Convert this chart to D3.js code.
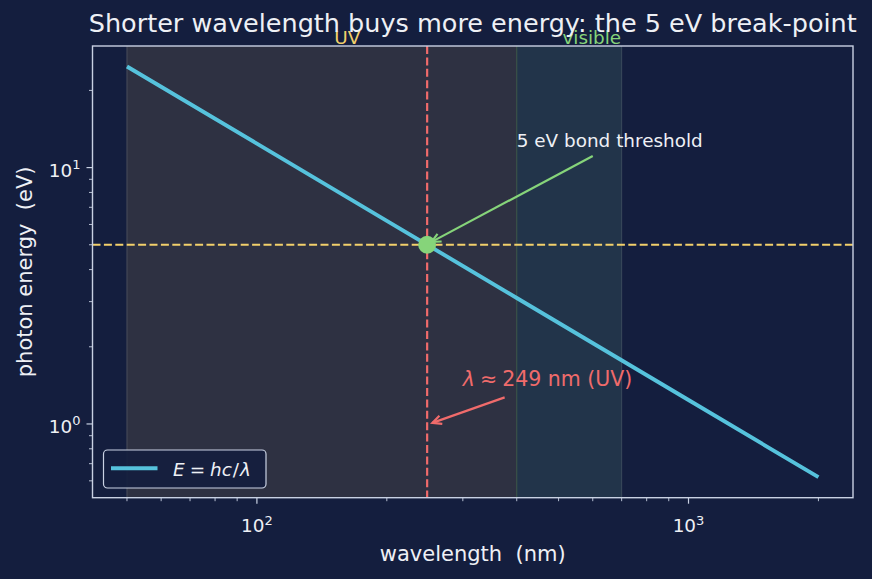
<!DOCTYPE html>
<html><head><meta charset="utf-8">
<script src="https://cdn.jsdelivr.net/npm/d3@7"></script>
<style>
html,body{margin:0;padding:0;background:#141e3e;}
svg{display:block;font-family:"DejaVu Sans",sans-serif;}
svg text{white-space:pre;}
</style></head><body>
<svg id="c" width="872" height="579"></svg>
<script>
// ---- data ----
const wavelengthNm = [50, 100, 200, 400, 1000, 2000];
const energyEv = [24.8, 12.4, 6.2, 3.1, 1.24, 0.62];
const thresholdEv = 5;
const breakWavelength = 248;
const uvSpan = [50, 400];
const visibleSpan = [400, 700];
const xDomain = [41.6, 2405];
const yDomain = [0.5157, 29.8];
const xMajorTicks = [100, 1000];
const xTickLabels = ["2", "3"];
const yMajorTicks = [1, 10];
const yTickLabels = ["0", "1"];
const xMinorTicks = [50,60,70,80,90,200,300,400,500,600,700,800,900,2000];
const yMinorTicks = [0.6,0.7,0.8,0.9,2,3,4,5,6,7,8,9,20];
const title = "Shorter wavelength buys more energy: the 5 eV break-point";
const thresholdNote = {text: "5 eV bond threshold", x: 400, y: 12, ax: 600, ay: 11.1, tx: 254, ty: 5.13};
const lambdaNote = {x: 300, y: 1.4, ax: 375, ay: 1.27, tx: 255, ty: 1.01};
const spanLabels = [{text:"UV", x:162}, {text:"visible", x:597}];

// ---- layout ----
const svg = d3.select("#c");
const L = 92.5, R = 853, T = 46, B = 497.7;
const x = d3.scaleLog().domain(xDomain).range([L, R]);
const y = d3.scaleLog().domain(yDomain).range([B, T]);

const C = {bg:"#141e3e", text:"#eef0f5", spine:"#c9d1e3", line:"#56c2dc", yellow:"#f2d06b",
  red:"#f06b6b", green:"#86d47a", uv:"#2e3142", vis:"#22344a"};

svg.append("rect").attr("width",872).attr("height",579).attr("fill",C.bg);

const defs = svg.append("defs");
defs.append("clipPath").attr("id","clip").append("rect")
  .attr("x",L).attr("y",T).attr("width",R-L).attr("height",B-T);

const plot = svg.append("g").attr("clip-path","url(#clip)");
// spans
plot.append("rect").attr("x",x(uvSpan[0])).attr("y",T).attr("width",x(uvSpan[1])-x(uvSpan[0]))
  .attr("height",B-T).attr("fill",C.uv);
plot.append("rect").attr("x",x(visibleSpan[0])).attr("y",T).attr("width",x(visibleSpan[1])-x(visibleSpan[0]))
  .attr("height",B-T).attr("fill",C.vis);
[[uvSpan[0],"#4a4d5c"],[visibleSpan[0],"#3f5a48"],[visibleSpan[1],"#3a4a5c"]].forEach(([v,c])=>{
  plot.append("line").attr("x1",x(v)).attr("x2",x(v)).attr("y1",T).attr("y2",B)
    .attr("stroke",c).attr("stroke-width",1);
});

// dashed lines
plot.append("line").attr("x1",L).attr("x2",R).attr("y1",y(thresholdEv)).attr("y2",y(thresholdEv))
  .attr("stroke",C.yellow).attr("stroke-width",2.2).attr("stroke-dasharray","8,3.4");
plot.append("line").attr("x1",x(breakWavelength)).attr("x2",x(breakWavelength)).attr("y1",T).attr("y2",B)
  .attr("stroke",C.red).attr("stroke-width",2.2).attr("stroke-dasharray","8,3.4");

// main line
const pts = wavelengthNm.map((w,i)=>[w, energyEv[i]]);
plot.append("path").datum(pts)
  .attr("d", d3.line().x(d=>x(d[0])).y(d=>y(d[1])))
  .attr("fill","none").attr("stroke",C.line).attr("stroke-width",3.9).attr("stroke-linecap","butt");

// point
plot.append("circle").attr("cx",x(breakWavelength)).attr("cy",y(thresholdEv)).attr("r",9).attr("fill",C.green);

// arrows
function arrow(x1,y1,x2,y2,color){
  const g = svg.append("g");
  g.append("line").attr("x1",x1).attr("y1",y1).attr("x2",x2).attr("y2",y2)
    .attr("stroke",color).attr("stroke-width",2.2);
  const a = Math.atan2(y2-y1,x2-x1), len=10, sp=0.45;
  const p = d3.path();
  p.moveTo(x2-len*Math.cos(a-sp), y2-len*Math.sin(a-sp));
  p.lineTo(x2,y2);
  p.lineTo(x2-len*Math.cos(a+sp), y2-len*Math.sin(a+sp));
  g.append("path").attr("d",p.toString()).attr("fill","none").attr("stroke",color)
    .attr("stroke-width",2.2).attr("stroke-linejoin","miter");
}
arrow(x(thresholdNote.ax),y(thresholdNote.ay),x(thresholdNote.tx),y(thresholdNote.ty),C.green);
arrow(x(lambdaNote.ax),y(lambdaNote.ay),x(lambdaNote.tx),y(lambdaNote.ty),C.red);

svg.append("text").attr("x",x(thresholdNote.x)).attr("y",y(thresholdNote.y))
  .attr("fill",C.text).attr("font-size",18.4).text(thresholdNote.text);
const lt = svg.append("text").attr("x",x(lambdaNote.x)).attr("y",y(lambdaNote.y))
  .attr("fill",C.red).attr("font-size",20.5);
lt.append("tspan").attr("font-style","italic").text("λ");
lt.append("tspan").attr("dx",5).text("≈");
lt.append("tspan").attr("dx",5).text("249 nm (UV)");

// spines
svg.append("rect").attr("x",L).attr("y",T).attr("width",R-L).attr("height",B-T)
  .attr("fill","none").attr("stroke",C.spine).attr("stroke-width",1.4);

// ticks
const ax = svg.append("g");
xMajorTicks.forEach((v,i)=>{
  ax.append("line").attr("x1",x(v)).attr("x2",x(v)).attr("y1",B).attr("y2",B+6).attr("stroke",C.spine).attr("stroke-width",1.2);
  const t = ax.append("text").attr("x",x(v)).attr("y",532).attr("text-anchor","middle").attr("fill",C.text).attr("font-size",18.4);
  t.append("tspan").text("10");
  t.append("tspan").attr("dy",-7.5).attr("font-size",13).text(xTickLabels[i]);
});
xMinorTicks.forEach(v=>{
  ax.append("line").attr("x1",x(v)).attr("x2",x(v)).attr("y1",B).attr("y2",B+3.5).attr("stroke",C.spine).attr("stroke-width",0.9);
});
yMajorTicks.forEach((v,i)=>{
  ax.append("line").attr("x1",L-6).attr("x2",L).attr("y1",y(v)).attr("y2",y(v)).attr("stroke",C.spine).attr("stroke-width",1.2);
  const t = ax.append("text").attr("x",L-12).attr("y",y(v)+9).attr("text-anchor","end").attr("fill",C.text).attr("font-size",18.4);
  t.append("tspan").text("10");
  t.append("tspan").attr("dy",-7.5).attr("font-size",13).text(yTickLabels[i]);
});
yMinorTicks.forEach(v=>{
  ax.append("line").attr("x1",L-3.5).attr("x2",L).attr("y1",y(v)).attr("y2",y(v)).attr("stroke",C.spine).attr("stroke-width",0.9);
});

// axis labels
svg.append("text").attr("x",(L+R)/2).attr("y",561).attr("text-anchor","middle")
  .attr("fill",C.text).attr("font-size",21).text("wavelength  (nm)");
svg.append("text").attr("transform",`translate(32,${(T+B)/2}) rotate(-90)`).attr("text-anchor","middle")
  .attr("fill",C.text).attr("font-size",21).text("photon energy  (eV)");

// span labels
spanLabels.forEach((s,i)=>{
  svg.append("text").attr("x",x(s.x)).attr("y",44).attr("text-anchor","middle")
    .attr("fill",i===0?C.yellow:C.green).attr("font-size",18.4).text(s.text);
});

// title
svg.append("text").attr("x",(L+R)/2).attr("y",32).attr("text-anchor","middle")
  .attr("fill",C.text).attr("font-size",25.5).text(title);

// legend
const lg = svg.append("g");
lg.append("rect").attr("x",103.5).attr("y",450).attr("width",162.5).attr("height",38).attr("rx",4)
  .attr("fill",C.bg).attr("fill-opacity",0.9).attr("stroke",C.spine).attr("stroke-width",1.2);
lg.append("line").attr("x1",111).attr("x2",157.5).attr("y1",468.3).attr("y2",468.3).attr("stroke",C.line).attr("stroke-width",3.9);
const le = lg.append("text").attr("x",173).attr("y",475.5).attr("fill",C.text).attr("font-size",18.4);
le.append("tspan").attr("font-style","italic").text("E");
le.append("tspan").attr("dx",5).text("=");
le.append("tspan").attr("dx",5).attr("font-style","italic").text("hc");
le.append("tspan").attr("dx",1).text("/");
le.append("tspan").attr("dx",1).attr("font-style","italic").text("λ");
</script>
</body></html>
